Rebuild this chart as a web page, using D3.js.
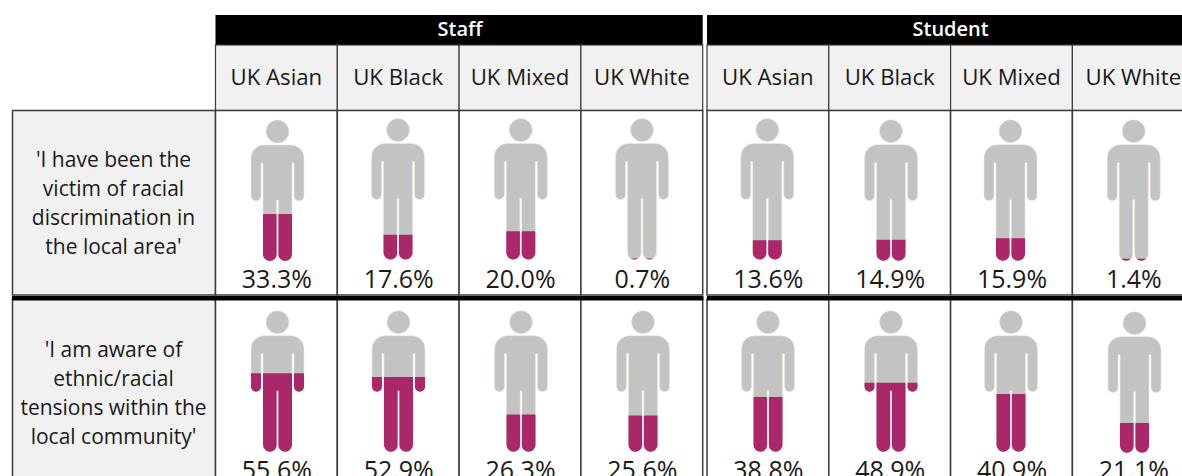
<!DOCTYPE html>
<html>
<head>
<meta charset="utf-8">
<script src="https://cdn.jsdelivr.net/npm/d3@7"></script>
<style>
html,body{margin:0;padding:0;background:#fff;overflow:hidden}
text{font-family:"Open Sans",sans-serif;fill:#1a1a1a}
</style>
</head>
<body>
<svg id="chart" width="1182" height="476"></svg>
<script>
// Survey results by respondent group
const groups = ["Staff", "Student"];
const ethnicities = ["UK Asian", "UK Black", "UK Mixed", "UK White"];
const statements = [
  ["'I have been the", "victim of racial", "discrimination in", "the local area'"],
  ["'I am aware of", "ethnic/racial", "tensions within the", "local community'"]
];
const staffValues = [
  [33.3, 17.6, 20.0, 0.7],
  [55.6, 52.9, 26.3, 25.6]
];
const studentValues = [
  [13.6, 14.9, 15.9, 1.4],
  [38.8, 48.9, 40.9, 21.1]
];

const svg = d3.select("#chart");
const grey = "#f1f1f1", line = "#3c3c3c", ink = "#000";
const bodyGrey = "#c3c3c3", magenta = "#aa2869", halo = "#efe7dc";

// Column and row layout
const cols = d3.scaleBand().domain(d3.range(4)).range([0, 487.2]);
const blockX = d3.scaleOrdinal().domain(groups).range([215.5, 707]);
const rowTop = [110.5, 299];
const rowBottom = [295, 490];

// Hand placement of each pictogram inside its cell, per row and group
const figureDx = {
  Staff: [[1.1, -0.2, 0.8, 0.2], [1.1, 0.3, 1, 1.2]],
  Student: [[-0.6, 1.3, -1, 0.4], [0.1, 1.3, -0.5, 1.2]]
};
const figureFoot = {
  Staff: [[261, 259.5, 259.5, 259.5], [451.7, 451.7, 451.7, 451.7]],
  Student: [[259.5, 260.7, 260.7, 260.7], [451.7, 451.7, 451.7, 452.7]]
};
const figureHeight = 141, figureWidth = 53;
const labelBaseline = [288, 479];

// Pictogram drawn in a box 53 wide and 141 tall, head at the top
function personPath() {
  const p = d3.path();
  p.arc(26.5, 11.5, 11.5, 0, 2 * Math.PI);
  p.closePath();
  // shoulders and arms
  p.moveTo(0, 38);
  p.arcTo(0, 25, 13, 25, 13);
  p.lineTo(40, 25);
  p.arcTo(53, 25, 53, 38, 13);
  p.lineTo(53, 76);
  p.arcTo(53, 81, 48, 81, 5);
  p.arcTo(43, 81, 43, 76, 5);
  p.lineTo(43, 43);
  p.lineTo(41, 43);
  // right leg
  p.lineTo(41, 134);
  p.arcTo(41, 141, 34, 141, 7);
  p.arcTo(27.4, 141, 27.4, 134, 6.6);
  p.lineTo(27.4, 80);
  p.lineTo(25.6, 80);
  // left leg
  p.lineTo(25.6, 134);
  p.arcTo(25.6, 141, 19, 141, 6.6);
  p.arcTo(12, 141, 12, 134, 7);
  p.lineTo(12, 43);
  p.lineTo(10, 43);
  p.lineTo(10, 76);
  p.arcTo(10, 81, 5, 81, 5);
  p.arcTo(0, 81, 0, 76, 5);
  p.closePath();
  return p.toString();
}
const person = personPath();
const defs = svg.append("defs");

// Header bars and column headings
groups.forEach(g => {
  const x0 = blockX(g);
  svg.append("rect").attr("x", x0).attr("y", 15).attr("width", cols.bandwidth() * 4).attr("height", 30).attr("fill", ink);
  svg.append("text").attr("x", x0 + cols.bandwidth() * 2 + (g === "Staff" ? 1 : 0)).attr("y", 36).attr("text-anchor", "middle")
    .style("fill", "#fff").style("font-weight", 600).attr("font-size", 20).text(g);
  ethnicities.forEach((e, i) => {
    svg.append("rect").attr("x", x0 + cols(i)).attr("y", 45).attr("width", cols.bandwidth()).attr("height", 65.5)
      .attr("fill", grey).attr("stroke", line).attr("stroke-width", 1.2);
    svg.append("text").attr("x", x0 + cols(i) + cols.bandwidth() / 2).attr("y", 85)
      .attr("text-anchor", "middle").attr("font-size", 22.2).text(e);
  });
});

// Statement labels on the left
statements.forEach((lines, r) => {
  svg.append("rect").attr("x", 12.5).attr("y", rowTop[r]).attr("width", 203).attr("height", rowBottom[r] - rowTop[r])
    .attr("fill", grey).attr("stroke", line).attr("stroke-width", 1.5);
  const y0 = r === 0 ? 166.8 : 356.8;
  lines.forEach((t, k) => {
    svg.append("text").attr("x", 113.5).attr("y", y0 + k * 29.2).attr("text-anchor", "middle")
      .attr("font-size", 21).text(t);
  });
});

// One pictogram per value, filled from the feet up
const y = d3.scaleLinear().domain([0, 100]);
groups.forEach(g => {
  const values = g === "Staff" ? staffValues : studentValues;
  values.forEach((row, r) => {
    row.forEach((v, i) => {
      const x0 = blockX(g) + cols(i);
      const bw = cols.bandwidth();
      const foot = figureFoot[g][r][i];
      const top = foot - figureHeight;
      y.range([foot, top]);
      const id = `fill-${g}-${r}-${i}`;
      defs.append("clipPath").attr("id", id).append("rect")
        .attr("x", -1).attr("width", figureWidth + 2)
        .attr("y", y(v) - top).attr("height", foot - y(v) + 1);
      svg.append("rect").attr("x", x0).attr("y", rowTop[r]).attr("width", bw).attr("height", rowBottom[r] - rowTop[r])
        .attr("fill", "#fff").attr("stroke", line).attr("stroke-width", 1.5);
      const fig = svg.append("g")
        .attr("transform", `translate(${x0 + bw / 2 - figureWidth / 2 + figureDx[g][r][i]},${top})`);
      fig.append("path").attr("d", person).attr("fill", bodyGrey)
        .attr("stroke", halo).attr("stroke-width", 0.6);
      fig.append("path").attr("d", person).attr("fill", magenta).attr("clip-path", `url(#${id})`);
      svg.append("text").attr("x", x0 + bw / 2 + 0.5).attr("y", labelBaseline[r])
        .attr("text-anchor", "middle").attr("font-size", 25).text(d3.format(".1f")(v) + "%");
    });
  });
});

// Heavy rule between the two statements
svg.append("rect").attr("x", 12).attr("y", 296).attr("width", 691.5).attr("height", 4.5).attr("fill", ink);
svg.append("rect").attr("x", 707).attr("y", 296).attr("width", 475).attr("height", 4.5).attr("fill", ink);
</script>
</body>
</html>
